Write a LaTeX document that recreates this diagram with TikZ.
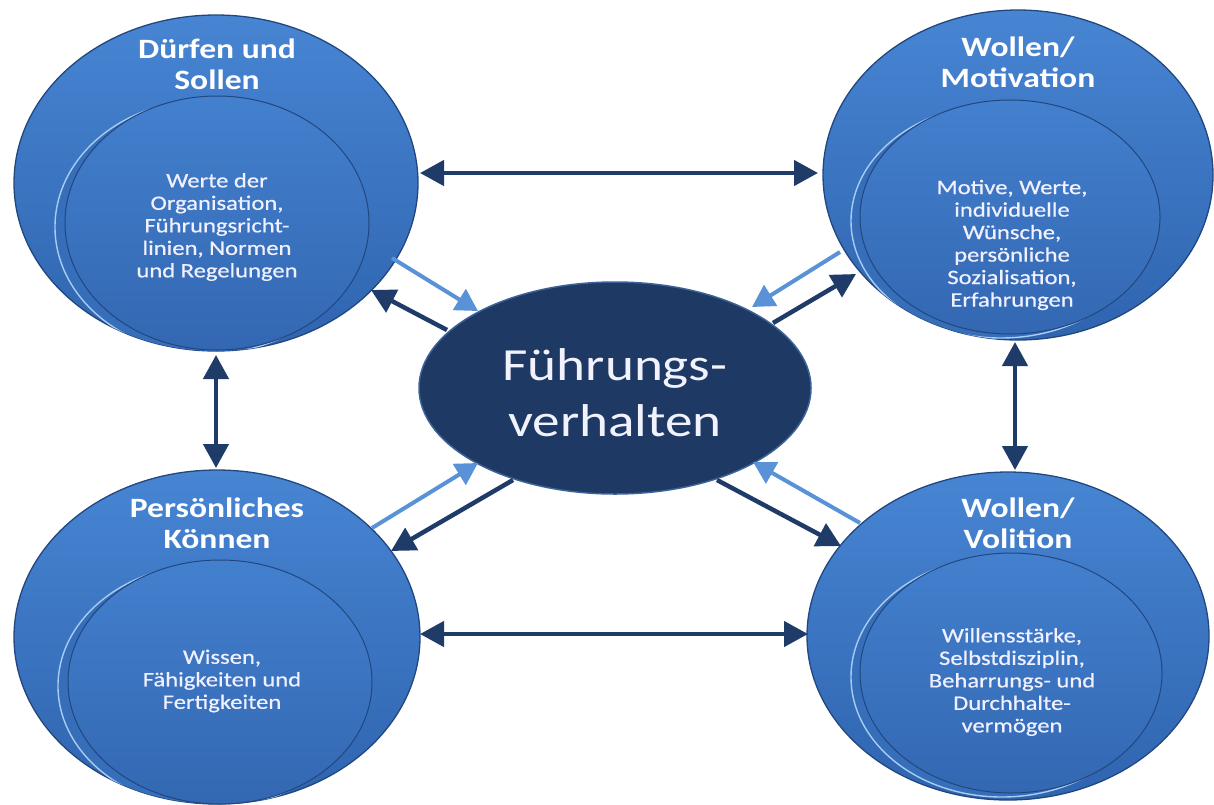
\documentclass[tikz,border=0pt]{standalone}
\usepackage{fontspec}
\setmainfont{Carlito}[FakeStretch=1.2]
\newfontfamily\bodyfont{Carlito}[FakeStretch=1.2, FakeBold=0.6]
\usetikzlibrary{arrows.meta,shapes.geometric}

\definecolor{arrowdark}{HTML}{1F3B68}
\definecolor{arrowlight}{HTML}{5A92D8}
\definecolor{bluetop}{HTML}{4785D3}
\definecolor{bluebot}{HTML}{2F64AF}
\definecolor{innertop}{HTML}{4380CE}
\definecolor{innerbot}{HTML}{3367B2}
\definecolor{rim}{HTML}{22477F}
\definecolor{gloss}{HTML}{A8CCF2}
\definecolor{corefill}{HTML}{1E3963}
\definecolor{corerim}{HTML}{3C6299}

\tikzset{
  outerdisc/.style={ellipse, inner sep=0pt, top color=bluetop, bottom color=bluebot, draw=rim, line width=1.3pt},
  shadowdisc/.style={ellipse, inner sep=0pt, fill=bluebot!70!bluetop, draw=gloss, line width=1.4pt},
  innerdisc/.style={ellipse, inner sep=0pt, top color=innertop, bottom color=innerbot, draw=rim, line width=1pt},
  titletext/.style={font=\fontsize{28}{31}\selectfont\bfseries, text=white, align=center},
  bodytext/.style={font=\bodyfont\fontsize{20.5}{22.5}\selectfont, text=white!94!blue, align=center},
  coretext/.style={font=\fontsize{46}{56}\selectfont, text=white!95!blue, align=center},
  darkarrow/.style={draw=arrowdark, line width=4.5pt, -{Triangle[length=24pt,width=25pt]}},
  darkboth/.style={draw=arrowdark, line width=4.5pt, {Triangle[length=24pt,width=25pt]}-{Triangle[length=24pt,width=25pt]}},
  lightarrow/.style={draw=arrowlight, line width=4pt, -{Triangle[length=22pt,width=24pt]}}
}

\begin{document}
\begin{tikzpicture}[x=1pt, y=-1pt]
\useasboundingbox[fill=white] (0,0) rectangle (1214,804);

% ---- Duerfen und Sollen (top left)
\node[outerdisc, minimum width=404pt, minimum height=336pt] (tl) at (216,183) {};
\begin{scope}
  \clip (216,183) ellipse [x radius=202pt, y radius=168pt];
  \node[shadowdisc, minimum width=304pt, minimum height=254pt] (tlshadow) at (207,227) {};
\end{scope}
\node[innerdisc, minimum width=304pt, minimum height=254pt] (tlin) at (217,223) {};
\node[titletext] (tltitle) at (217,64) {Dürfen und\\Sollen};
\node[bodytext] (tlbody) at (217,227) {Werte der\\Organisation,\\Führungsricht-\\linien, Normen\\und Regelungen};

% ---- Wollen/Motivation (top right)
\node[outerdisc, minimum width=390pt, minimum height=330pt] (tr) at (1018,175) {};
\begin{scope}
  \clip (1018,175) ellipse [x radius=195pt, y radius=165pt];
  \node[shadowdisc, minimum width=300pt, minimum height=234pt] (trshadow) at (1001,221) {};
\end{scope}
\node[innerdisc, minimum width=300pt, minimum height=234pt] (trin) at (1010,217) {};
\node[titletext] (trtitle) at (1018,62) {Wollen/\\Motivation};
\node[bodytext] (trbody) at (1012,245) {Motive, Werte,\\individuelle\\Wünsche,\\persönliche\\Sozialisation,\\Erfahrungen};

% ---- Persoenliches Koennen (bottom left)
\node[outerdisc, minimum width=406pt, minimum height=334pt] (bl) at (217,637) {};
\begin{scope}
  \clip (217,637) ellipse [x radius=203pt, y radius=167pt];
  \node[shadowdisc, minimum width=304pt, minimum height=244pt] (blshadow) at (210,686) {};
\end{scope}
\node[innerdisc, minimum width=304pt, minimum height=244pt] (blin) at (220,682) {};
\node[titletext] (bltitle) at (217,523) {Persönliches\\Können};
\node[bodytext] (blbody) at (222,681) {Wissen,\\Fähigkeiten und\\Fertigkeiten};

% ---- Wollen/Volition (bottom right)
\node[outerdisc, minimum width=402pt, minimum height=328pt] (br) at (1008,636) {};
\begin{scope}
  \clip (1008,636) ellipse [x radius=201pt, y radius=164pt];
  \node[shadowdisc, minimum width=302pt, minimum height=240pt] (brshadow) at (1002,677) {};
\end{scope}
\node[innerdisc, minimum width=302pt, minimum height=240pt] (brin) at (1011,673) {};
\node[titletext] (brtitle) at (1018,523) {Wollen/\\Volition};
\node[bodytext] (brbody) at (1012,682) {Willensstärke,\\Selbstdisziplin,\\Beharrungs- und\\Durchhalte-\\vermögen};

% ---- central node
\node[ellipse, inner sep=0pt, fill=corefill, draw=corerim, line width=1.5pt,
      minimum width=392pt, minimum height=212pt] (core) at (615,388) {};
\node[coretext] (coretxt) at (615,393) {Führungs-\\verhalten};

% ---- connector end points
\coordinate (tlR) at (420,173);  \coordinate (trL) at (818,173);
\coordinate (blR) at (420,634);  \coordinate (brL) at (808,634);
\coordinate (tlB) at (216,355);  \coordinate (blT) at (216,468);
\coordinate (trB) at (1015,342); \coordinate (brT) at (1015,470);

\coordinate (tlLightA) at (392,258); \coordinate (tlLightB) at (478,311);
\coordinate (tlDarkA)  at (447,330); \coordinate (tlDarkB)  at (371,290);
\coordinate (trLightA) at (840,252); \coordinate (trLightB) at (752,307);
\coordinate (trDarkA)  at (773,323); \coordinate (trDarkB)  at (856,274);
\coordinate (blLightA) at (372,528); \coordinate (blLightB) at (478,463);
\coordinate (blDarkA)  at (513,480); \coordinate (blDarkB)  at (391,551);
\coordinate (brLightA) at (860,523); \coordinate (brLightB) at (753,462);
\coordinate (brDarkA)  at (717,480); \coordinate (brDarkB)  at (841,546);

% ---- connectors between the outer discs
\draw[darkboth] (tlR) -- (trL);
\draw[darkboth] (blR) -- (brL);
\draw[darkboth] (tlB) -- (blT);
\draw[darkboth] (trB) -- (brT);

% ---- influences towards and from the centre
\draw[lightarrow] (tlLightA) -- (tlLightB);
\draw[darkarrow]  (tlDarkA)  -- (tlDarkB);
\draw[lightarrow] (trLightA) -- (trLightB);
\draw[darkarrow]  (trDarkA)  -- (trDarkB);
\draw[lightarrow] (blLightA) -- (blLightB);
\draw[darkarrow]  (blDarkA)  -- (blDarkB);
\draw[lightarrow] (brLightA) -- (brLightB);
\draw[darkarrow]  (brDarkA)  -- (brDarkB);
\end{tikzpicture}
\end{document}
